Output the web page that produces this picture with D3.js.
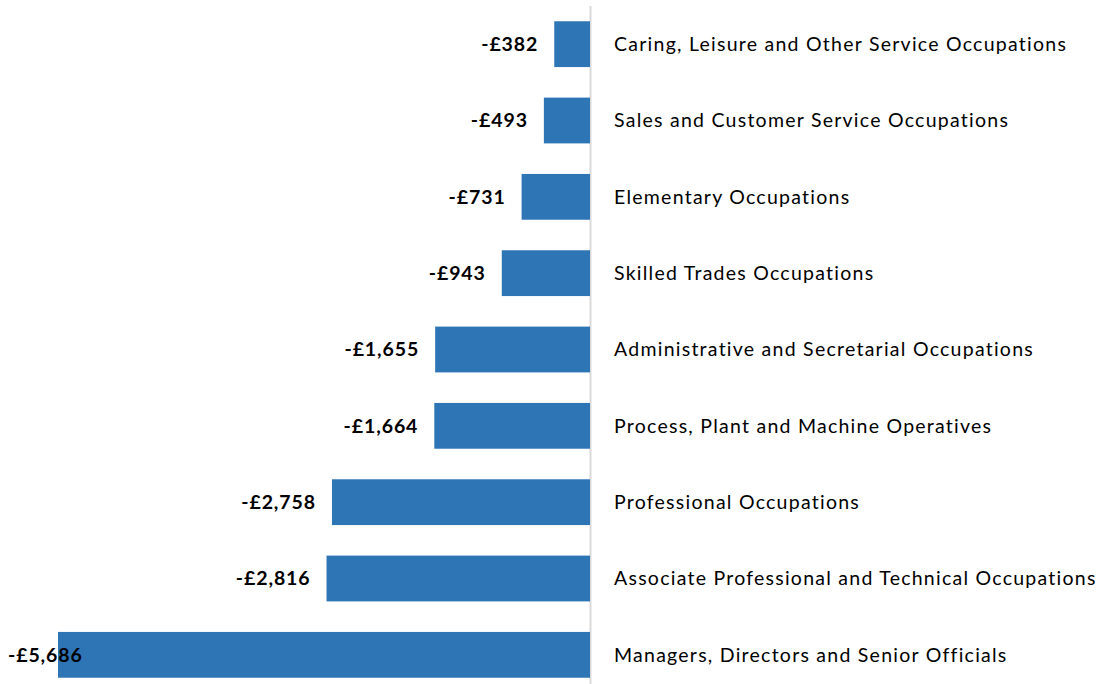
<!DOCTYPE html>
<html>
<head>
<meta charset="utf-8">
<script src="https://cdn.jsdelivr.net/npm/d3@7.9.0/dist/d3.min.js"></script>
<style>
  body { margin: 0; background: #fff; }
  svg { display: block; }
  text { font-family: Lato, "Open Sans", sans-serif; }
</style>
</head>
<body>
<svg id="chart" width="1103" height="684"></svg>
<script>
const categories = [
  'Caring, Leisure and Other Service Occupations',
  'Sales and Customer Service Occupations',
  'Elementary Occupations',
  'Skilled Trades Occupations',
  'Administrative and Secretarial Occupations',
  'Process, Plant and Machine Operatives',
  'Professional Occupations',
  'Associate Professional and Technical Occupations',
  'Managers, Directors and Senior Officials'
];
const values = [-382, -493, -731, -943, -1655, -1664, -2758, -2816, -5686];

const data = categories.map((c, i) => ({ label: c, value: values[i] }));

const svg = d3.select('#chart');

let x = d3.scaleLinear()
    .domain([-5686, 0])
    .range([58, 590]);

let y = d3.scaleBand()
    .domain(categories)
    .range([6, 693])
    .paddingInner(0.4)
    .paddingOuter(0.2);

let fmt = d3.format(',');

// zero axis line
svg.append('line')
    .attr('x1', x(0) + 0.5).attr('x2', x(0) + 0.5)
    .attr('y1', 6).attr('y2', 684)
    .attr('stroke', '#d9d9d9')
    .attr('stroke-width', 2);

svg.selectAll('rect.bar')
    .data(data)
    .enter()
    .append('rect')
    .attr('class', 'bar')
    .attr('x', d => x(d.value))
    .attr('y', d => y(d.label))
    .attr('width', d => x(0) - x(d.value))
    .attr('height', y.bandwidth())
    .attr('fill', '#2e75b6');

// value labels, pushed back inside the chart if they run off the left edge
svg.selectAll('text.val')
    .data(data)
    .enter()
    .append('text')
    .attr('class', 'val')
    .attr('y', d => y(d.label) + y.bandwidth() / 2)
    .attr('dy', '0.35em')
    .attr('font-size', 19.5)
    .attr('font-weight', 'bold')
    .attr('letter-spacing', 0.9)
    .attr('fill', '#000')
    .text(d => '-£' + fmt(Math.abs(d.value)))
    .each(function(d) {
        let w = this.getComputedTextLength();
        let end = x(d.value) - 16;
        if (end - w < 8) end = 8 + w;
        d3.select(this).attr('x', end).attr('text-anchor', 'end');
    });

svg.selectAll('text.cat')
    .data(data)
    .enter()
    .append('text')
    .attr('class', 'cat')
    .attr('x', 614)
    .attr('y', d => y(d.label) + y.bandwidth() / 2)
    .attr('dy', '0.35em')
    .attr('font-size', 19.5)
    .attr('letter-spacing', 1.25)
    .attr('fill', '#000')
    .text(d => d.label);
</script>
</body>
</html>
